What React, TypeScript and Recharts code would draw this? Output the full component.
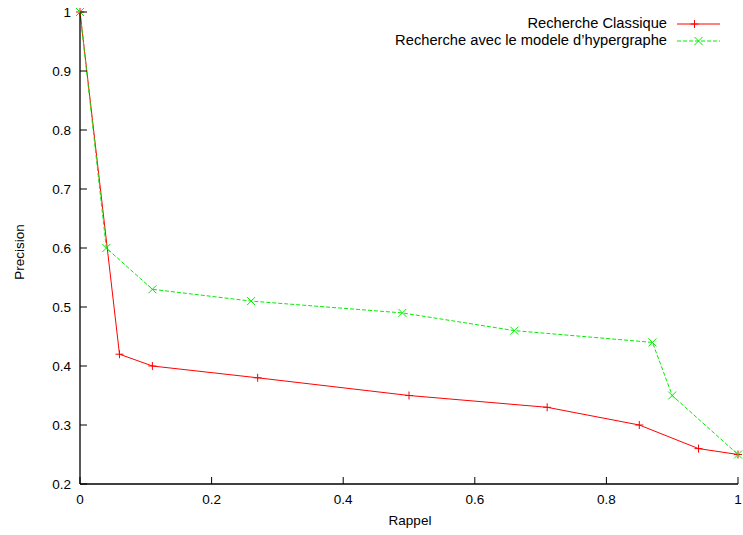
import React from 'react';
import { LineChart, Line, XAxis, YAxis } from 'recharts';

const classiqueRappel = [0, 0.06, 0.11, 0.27, 0.5, 0.71, 0.85, 0.94, 1];
const classiquePrecision = [1, 0.42, 0.4, 0.38, 0.35, 0.33, 0.3, 0.26, 0.25];
const hyperRappel = [0, 0.04, 0.11, 0.26, 0.49, 0.66, 0.87, 0.9, 1];
const hyperPrecision = [1, 0.6, 0.53, 0.51, 0.49, 0.46, 0.44, 0.35, 0.25];
const xTicks = [0, 0.2, 0.4, 0.6, 0.8, 1];
const yTicks = [0.2, 0.3, 0.4, 0.5, 0.6, 0.7, 0.8, 0.9, 1];
const seriesNames = ['Recherche Classique', "Recherche avec le modele d\u2019hypergraphe"];
const xLabel = 'Rappel';
const yLabel = 'Precision';

const classiqueData = classiqueRappel.map((x, i) => ({ x, y: classiquePrecision[i] }));
const hyperData = hyperRappel.map((x, i) => ({ x, y: hyperPrecision[i] }));

const FONT = '"Liberation Sans", Arial, sans-serif';
const RED = '#ff0000';
const GREEN = '#00ee00';
const TL = 7;
const TICK_FS = 13.5;

const BottomTick = (p: any) => (
  <g>
    <line x1={p.x} y1={p.y} x2={p.x} y2={p.y - TL} stroke="#000" />
    <text x={p.x} y={p.y + 20} textAnchor="middle" fontSize={TICK_FS} fontFamily={FONT} fill="#000">{p.payload.value}</text>
  </g>
);
const TopTick = (p: any) => (
  <line x1={p.x} y1={p.y} x2={p.x} y2={p.y + TL} stroke="#000" />
);
const LeftTick = (p: any) => (
  <g>
    <line x1={p.x} y1={p.y} x2={p.x + TL} y2={p.y} stroke="#000" />
    <text x={p.x - 9} y={p.y + 5} textAnchor="end" fontSize={TICK_FS} fontFamily={FONT} fill="#000">{p.payload.value}</text>
  </g>
);
const RightTick = (p: any) => (
  <line x1={p.x} y1={p.y} x2={p.x - TL} y2={p.y} stroke="#000" />
);

const PlusDot = (p: any) => {
  const { cx, cy } = p;
  if (cx == null || cy == null) return <g key={p.index} />;
  return <path key={p.index} d={`M${cx - 4},${cy}H${cx + 4}M${cx},${cy - 4}V${cy + 4}`} stroke={RED} strokeWidth={1} fill="none" />;
};
const CrossDot = (p: any) => {
  const { cx, cy } = p;
  if (cx == null || cy == null) return <g key={p.index} />;
  const s = 4;
  return <path key={p.index} d={`M${cx - s},${cy - s}L${cx + s},${cy + s}M${cx - s},${cy + s}L${cx + s},${cy - s}`} stroke={GREEN} strokeWidth={1} fill="none" />;
};

export default function App() {
  return (
    <div style={{ position: 'absolute', left: 0, top: 0, width: 743, height: 535, background: '#fff', fontFamily: FONT }}>
      <LineChart width={743} height={535} margin={{ top: 12, right: 5, left: 0, bottom: 0 }}>
        <XAxis dataKey="x" type="number" domain={[0, 1]} ticks={xTicks} height={51} tickSize={0} tickMargin={0} tickLine={false} tick={<BottomTick />} axisLine={{ stroke: '#000', strokeWidth: 1.3 }} interval={0} />
        <XAxis xAxisId="top" orientation="top" dataKey="x" type="number" domain={[0, 1]} ticks={xTicks} height={0} tickSize={0} tickMargin={0} tickLine={false} tick={<TopTick />} axisLine={{ stroke: '#000', strokeWidth: 1.3 }} interval={0} />
        <YAxis type="number" domain={[0.2, 1]} ticks={yTicks} width={80} tickSize={0} tickMargin={0} tickLine={false} tick={<LeftTick />} axisLine={{ stroke: '#000', strokeWidth: 1.3 }} interval={0} />
        <YAxis yAxisId="right" orientation="right" type="number" domain={[0.2, 1]} ticks={yTicks} width={0} tickSize={0} tickMargin={0} tickLine={false} tick={<RightTick />} axisLine={{ stroke: '#000', strokeWidth: 1.3 }} interval={0} />
        <Line data={classiqueData} dataKey="y" type="linear" stroke={RED} strokeWidth={1} dot={PlusDot} activeDot={false} isAnimationActive={false} />
        <Line data={hyperData} dataKey="y" type="linear" stroke={GREEN} strokeWidth={1} strokeDasharray="4 2" dot={CrossDot} activeDot={false} isAnimationActive={false} />
      </LineChart>
      <div style={{ position: 'absolute', left: 410, top: 520, transform: 'translate(-50%, -50%)', fontSize: 13.5, whiteSpace: 'nowrap' }}>{xLabel}</div>
      <div style={{ position: 'absolute', left: 19, top: 252, transform: 'translate(-50%, -50%) rotate(-90deg)', fontSize: 13.5, whiteSpace: 'nowrap' }}>{yLabel}</div>
      <div style={{ position: 'absolute', right: 743 - 667, top: 15, textAlign: 'right', fontSize: 14.7, lineHeight: '17px', whiteSpace: 'nowrap' }}>
        <div>{seriesNames[0]}</div>
        <div>{seriesNames[1]}</div>
      </div>
      <svg style={{ position: 'absolute', left: 675, top: 16 }} width={48} height={34}>
        <line x1={2} y1={8} x2={45} y2={8} stroke={RED} strokeWidth={1} />
        <path d="M19.5,4V12M15.5,8H23.5" stroke={RED} strokeWidth={1} />
        <line x1={2} y1={25} x2={45} y2={25} stroke={GREEN} strokeWidth={1} strokeDasharray="4 2" />
        <path d="M19.5,21L27.5,29M19.5,29L27.5,21" stroke={GREEN} strokeWidth={1} />
      </svg>
    </div>
  );
}
